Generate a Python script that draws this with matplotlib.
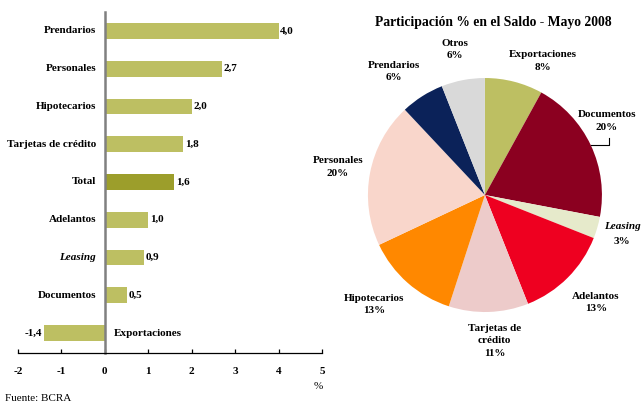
import numpy as np
import matplotlib
matplotlib.use("Agg")
from matplotlib import pyplot as plt

# bar chart data (variación %)
bar_labels = ["Prendarios", "Personales", "Hipotecarios", "Tarjetas de crédito",
              "Total", "Adelantos", "Leasing", "Documentos", "Exportaciones"]
bar_values = [4.0, 2.7, 2.0, 1.8, 1.6, 1.0, 0.9, 0.5, -1.4]

# pie chart data (participación % en el saldo)
pie_labels = ["Exportaciones", "Documentos", "Leasing", "Adelantos",
              "Tarjetas de\ncrédito", "Hipotecarios", "Personales",
              "Prendarios", "Otros"]
pie_values = [8, 20, 3, 13, 11, 13, 20, 6, 6]
pie_colors = ["#BDBF62", "#8B0020", "#E6EACB", "#EE0020", "#EDCBCA",
              "#FF8800", "#F9D6CB", "#0B2259", "#D9D9D9"]
# radial distance of each pie label (in radii)
label_dist = [1.25, 1.22, 1.22, 1.32, 1.25, 1.33, 1.28, 1.31, 1.27]
label_shift = [-9, 6, 0, 1, 2, -4, 0, 4, 1]


def main():
    plt.rcParams['font.family'] = ['Liberation Serif', 'DejaVu Serif']
    fs = 8
    fig = plt.figure(figsize=(6.42, 4.03), dpi=100)

    # ---- horizontal bars
    ax = fig.add_axes([0.028, 0.124, 0.4735, 0.846])
    y = np.arange(len(bar_values))
    colors = ["#9C9E2B" if l == "Total" else "#BDBF62" for l in bar_labels]
    ax.barh(y, bar_values, height=0.42, color=colors)
    ax.set_xlim(-2, 5)
    ax.set_ylim(len(bar_values) - 0.47, -0.5)

    for yi, v, lab in zip(y, bar_values, bar_labels):
        txt = f"{v:.1f}".replace(".", ",")
        style = "italic" if lab == "Leasing" else "normal"
        if v >= 0:
            ax.text(v + 0.04, yi, txt, va="center", ha="left",
                    fontsize=fs, fontweight="bold")
            ax.text(-0.2, yi, lab, va="center", ha="right", fontsize=fs,
                    fontweight="bold", fontstyle=style)
        else:
            ax.text(v - 0.05, yi, txt, va="center", ha="right",
                    fontsize=fs, fontweight="bold")
            ax.text(0.2, yi, lab, va="center", ha="left", fontsize=fs,
                    fontweight="bold", fontstyle=style)

    ax.set_yticks([])
    ax.spines['left'].set_position(('data', 0))
    ax.spines['left'].set_color("#808080")
    ax.spines['left'].set_linewidth(1.8)
    ax.spines['right'].set_visible(False)
    ax.spines['top'].set_visible(False)
    ax.spines['bottom'].set_linewidth(0.9)
    ax.set_xticks(range(-2, 6))
    ax.set_xticklabels([str(t) for t in range(-2, 6)], fontweight="bold",
                       fontsize=fs)
    ax.tick_params(axis='x', direction='in', length=3, width=0.9, pad=10)
    fig.text(0.503, 0.035, "%", ha="right", fontsize=fs)
    fig.text(0.008, 0.005, "Fuente: BCRA", fontsize=fs)

    # ---- pie
    pax = fig.add_axes([0.482, 0.0806, 0.5467, 0.871])
    wedges, _ = pax.pie(pie_values, colors=pie_colors, startangle=90,
                        counterclock=False, radius=1.0,
                        wedgeprops=dict(linewidth=0))
    pax.set_xlim(-1.5, 1.5)
    pax.set_ylim(-1.5, 1.5)
    pax.set_aspect('equal')
    pax.axis('off')
    for w, lab, v, d, sh in zip(wedges, pie_labels, pie_values,
                                label_dist, label_shift):
        ang = np.deg2rad((w.theta1 + w.theta2) / 2 + sh)
        style = "italic" if lab == "Leasing" else "normal"
        txt = f"{lab}\n{v}%"
        if lab == "Leasing":
            pax.text(d * np.cos(ang), d * np.sin(ang) + 0.07, lab,
                     ha="center", va="center", fontsize=fs,
                     fontweight="bold", fontstyle="italic")
            pax.text(d * np.cos(ang), d * np.sin(ang) - 0.06, f"{v}%",
                     ha="center", va="center", fontsize=fs, fontweight="bold")
        else:
            pax.text(d * np.cos(ang), d * np.sin(ang), txt, ha="center",
                     va="center", fontsize=fs, fontweight="bold",
                     linespacing=1.5, fontstyle=style)
        if lab == "Documentos":
            a0 = np.deg2rad((w.theta1 + w.theta2) / 2)
            x0, y0 = np.cos(a0), np.sin(a0)
            pax.plot([x0, 1.06, 1.06], [y0, y0, y0 + 0.06], color="black",
                     lw=0.8, clip_on=False)

    fig.text(0.768, 0.945, "Participación % en el Saldo - Mayo 2008",
             ha="center", va="center", fontsize=9.8, fontweight="bold")

    fig.savefig("out.png", dpi=100)


if __name__ == '__main__':
    main()
